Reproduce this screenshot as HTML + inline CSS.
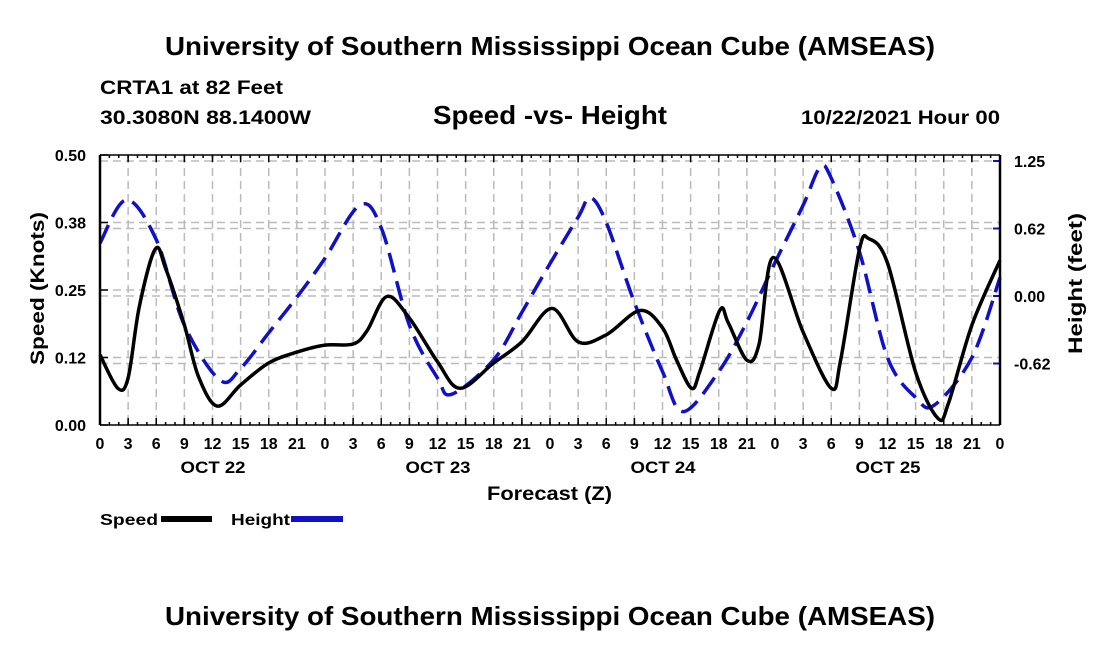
<!DOCTYPE html>
<html><head><meta charset="utf-8"><style>
body{margin:0;background:#fff;}
svg{display:block;font-family:"Liberation Sans",Arial,sans-serif;font-weight:bold;}
</style></head><body>
<svg id="chart" width="1100" height="650" viewBox="0 0 1100 650">
<text x="165" y="55" font-size="26" textLength="770" lengthAdjust="spacingAndGlyphs">University of Southern Mississippi Ocean Cube (AMSEAS)</text>
<text x="100" y="94" font-size="19" textLength="183" lengthAdjust="spacingAndGlyphs">CRTA1 at 82 Feet</text>
<text x="100" y="124" font-size="19" textLength="211" lengthAdjust="spacingAndGlyphs">30.3080N  88.1400W</text>
<text x="433" y="124" font-size="26" textLength="234" lengthAdjust="spacingAndGlyphs">Speed -vs- Height</text>
<text x="801" y="124" font-size="19" textLength="199" lengthAdjust="spacingAndGlyphs">10/22/2021 Hour 00</text>
<text x="165" y="625" font-size="26" textLength="770" lengthAdjust="spacingAndGlyphs">University of Southern Mississippi Ocean Cube (AMSEAS)</text>
<g id="grid"></g>
<g id="series"></g>
<g id="axes"></g>
<text x="487" y="500" font-size="19" textLength="125" lengthAdjust="spacingAndGlyphs">Forecast (Z)</text>
<text transform="translate(44,365) rotate(-90)" font-size="19" textLength="153" lengthAdjust="spacingAndGlyphs">Speed (Knots)</text>
<text transform="translate(1082,354) rotate(-90)" font-size="19" textLength="141" lengthAdjust="spacingAndGlyphs">Height (feet)</text>
<g>
<text x="100" y="525" font-size="16" textLength="58" lengthAdjust="spacingAndGlyphs">Speed</text>
<rect x="161" y="516" width="51" height="6" fill="#000"></rect>
<text x="231" y="525" font-size="16" textLength="59" lengthAdjust="spacingAndGlyphs">Height</text>
<rect x="291" y="516" width="52" height="6" fill="#1010c8"></rect>
</g>
</svg>
<script>
const speedHours=[0,1.9,3,4.2,5.9,7,9,10.5,12.5,15,18,21,24,27,28.5,30.6,33,36,38.4,42,45,48.2,51,54,57.6,60,61.5,63.1,64,66.1,67,69,70.3,71.8,75,78,79,81,82,84,87,89.4,90.5,93,96];
const speedValues=[0.13,0.068,0.087,0.22,0.326,0.29,0.185,0.09,0.035,0.074,0.115,0.135,0.148,0.15,0.175,0.238,0.198,0.117,0.068,0.115,0.154,0.216,0.154,0.167,0.212,0.18,0.12,0.068,0.1,0.212,0.19,0.12,0.15,0.31,0.172,0.068,0.12,0.325,0.345,0.30,0.098,0.012,0.04,0.185,0.305];
const heightHours=[0,2.8,6,9,12.8,15,18,21,24,27.7,30,33,36,37.5,42,45,48,51,52.3,54,57,60,62.2,66,69,72,75,76.8,78,81,84,87,89,93,96];
const heightValues=[0.49,0.89,0.52,-0.27,-0.78,-0.67,-0.34,-0.01,0.35,0.84,0.63,-0.27,-0.76,-0.91,-0.59,-0.15,0.3,0.73,0.91,0.68,-0.06,-0.70,-1.07,-0.70,-0.24,0.31,0.84,1.19,1.09,0.41,-0.57,-0.94,-1.01,-0.57,0.17];
const speedTicks=[0,0.125,0.25,0.375,0.5];
const speedTickLabels=["0.00","0.12","0.25","0.38","0.50"];
const heightTicks=[-0.625,0,0.625,1.25];
const heightTickLabels=["-0.62","0.00","0.62","1.25"];
const dayLabels=["OCT 22","OCT 23","OCT 24","OCT 25"];
const L=100,R=1000,T=155,B=425;
const X=h=>L+(R-L)*h/96;
const YS=v=>B-(B-T)*v/0.5;
const YH=f=>296-108*f;
const NS="http://www.w3.org/2000/svg";
function mk(tag,attrs,parent){const e=document.createElementNS(NS,tag);for(const k in attrs)e.setAttribute(k,attrs[k]);parent.appendChild(e);return e;}
const grid=document.getElementById('grid'),axes=document.getElementById('axes'),series=document.getElementById('series');
for(let h=0;h<=96;h+=3){
 const x=X(h);
 if(h>0&&h<96){const g=mk('line',{x1:x,x2:x,y1:T,y2:B,stroke:'#bbb','stroke-width':1.5,'stroke-dasharray':'8,5'},grid);
 
 }
 const t=mk('text',{x:x,y:B+24,'text-anchor':'middle','font-size':16},axes);t.textContent=String(h%24);
 
 
 mk('line',{x1:x,x2:x,y1:B,y2:B-7,stroke:'#000','stroke-width':1.5},axes);
 mk('line',{x1:x,x2:x,y1:T,y2:T+7,stroke:'#000','stroke-width':1.5},axes);
}
for(let h=0;h<=96;h+=1){mk('line',{x1:X(h),x2:X(h),y1:B,y2:B-3,stroke:'#000','stroke-width':1.5},axes);mk('line',{x1:X(h),x2:X(h),y1:T,y2:T+3,stroke:'#000','stroke-width':1.5},axes);}
dayLabels.forEach((d,i)=>{const t=mk('text',{x:X(12+24*i)-32,y:B+48,'font-size':17,textLength:65,lengthAdjust:'spacingAndGlyphs'},axes);t.textContent=d;
 
 });
speedTicks.forEach((v,i)=>{const y=YS(v);
 if(i>0&&i<speedTicks.length-1){const g=mk('line',{x1:L,x2:R,y1:y,y2:y,stroke:'#bbb','stroke-width':1.5,'stroke-dasharray':'8,5'},grid);
 
 }
 mk('line',{x1:L,x2:L+8,y1:y,y2:y,stroke:'#000','stroke-width':1.5},axes);
 const t=mk('text',{x:L-14,y:y+6,'text-anchor':'end','font-size':16},axes);t.textContent=speedTickLabels[i];
 
 });
heightTicks.forEach((f,i)=>{const y=YH(f);
 const g=mk('line',{x1:L,x2:R,y1:y,y2:y,stroke:'#bbb','stroke-width':1.5,'stroke-dasharray':'8,5'},grid);
 
 
 mk('line',{x1:R,x2:R-7,y1:y,y2:y,stroke:'#1010c8','stroke-width':2},axes);
 const t=mk('text',{x:R+14,y:y+6,'font-size':16},axes);t.textContent=heightTickLabels[i];
 
 });
mk('line',{x1:L,x2:L,y1:T,y2:B,stroke:'#000','stroke-width':2.5},axes);
mk('line',{x1:R,x2:R,y1:T,y2:B,stroke:'#000','stroke-width':2.5},axes);
mk('line',{x1:L,x2:R,y1:B,y2:B,stroke:'#000','stroke-width':1.5},axes);
mk('line',{x1:L,x2:R,y1:T,y2:T,stroke:'#000','stroke-width':1.5},axes);
function spline(pts){let d='M'+pts[0][0].toFixed(1)+','+pts[0][1].toFixed(1);
 for(let i=0;i<pts.length-1;i++){const p0=pts[Math.max(0,i-1)],p1=pts[i],p2=pts[i+1],p3=pts[Math.min(pts.length-1,i+2)];
 const c1=[p1[0]+(p2[0]-p0[0])/6,p1[1]+(p2[1]-p0[1])/6],c2=[p2[0]-(p3[0]-p1[0])/6,p2[1]-(p3[1]-p1[1])/6];
 d+=' C'+c1.map(v=>v.toFixed(1))+' '+c2.map(v=>v.toFixed(1))+' '+p2[0].toFixed(1)+','+p2[1].toFixed(1);}
 return d;}
const hp=mk('path',{d:spline(heightHours.map((h,i)=>[X(h),YH(heightValues[i])])),fill:'none',stroke:'#1010c8','stroke-width':3.5,'stroke-dasharray':'20,9'},series);


const sp=mk('path',{d:spline(speedHours.map((h,i)=>[X(h),YS(speedValues[i])])),fill:'none',stroke:'#000','stroke-width':3.5},series);


</script>
</body></html>
